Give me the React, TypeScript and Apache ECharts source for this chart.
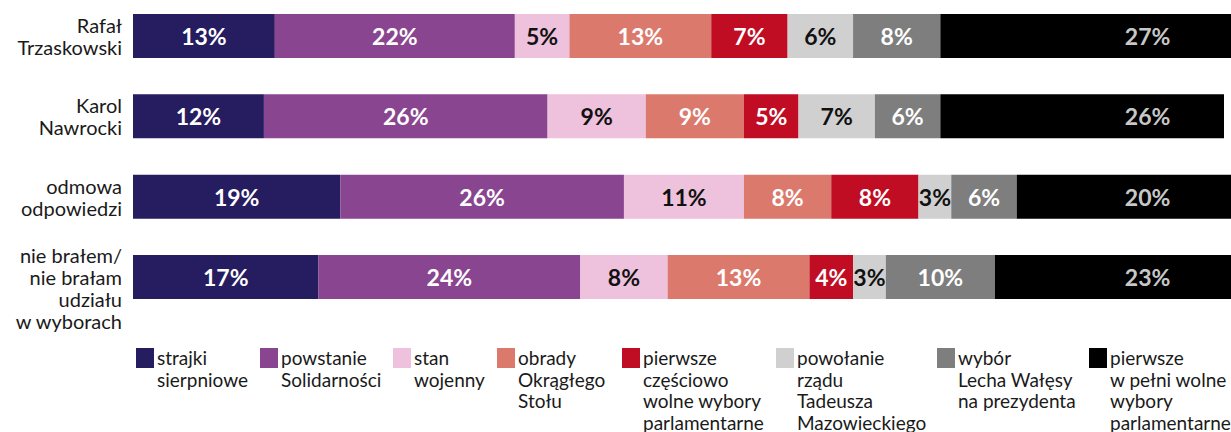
import React, { useEffect, useRef } from 'react';
import * as echarts from 'echarts';

const categories = [
  'Rafał\nTrzaskowski',
  'Karol\nNawrocki',
  'odmowa\nodpowiedzi',
  'nie brałem/\nnie brałam\nudziału\nw wyborach',
];

const seriesNames = [
  'strajki\nsierpniowe',
  'powstanie\nSolidarności',
  'stan\nwojenny',
  'obrady\nOkrągłego\nStołu',
  'pierwsze\nczęściowo\nwolne wybory\nparlamentarne',
  'powołanie\nrządu\nTadeusza\nMazowieckiego',
  'wybór\nLecha Wałęsy\nna prezydenta',
  'pierwsze\nw pełni wolne\nwybory\nparlamentarne',
];

const strajki = [13, 12, 19, 17];
const powstanie = [22, 26, 26, 24];
const stanWojenny = [5, 9, 11, 8];
const obrady = [13, 9, 8, 13];
const czesciowoWolne = [7, 5, 8, 4];
const powolanie = [6, 7, 3, 3];
const wyborWalesy = [8, 6, 6, 10];
const wPelniWolne = [27, 26, 20, 23];

const seriesValues = [strajki, powstanie, stanWojenny, obrady, czesciowoWolne, powolanie, wyborWalesy, wPelniWolne];

const colors = ['#261C60', '#8A4591', '#EEC1DC', '#DC796D', '#C00D24', '#D0D0D0', '#7E7E7E', '#000000'];
const labelColors = ['#ffffff', '#ffffff', '#111111', '#ffffff', '#ffffff', '#111111', '#ffffff', '#ffffff'];

const legendX = [136, 260, 393, 497, 622, 776, 937, 1089];
const LAST_LABEL_X = 93;
const FONT = 'Lato, "Open Sans", sans-serif';

export default function App() {
  const ref = useRef<HTMLDivElement>(null);

  useEffect(() => {
    if (!ref.current) return;
    const chart = echarts.init(ref.current, null, { renderer: 'svg' });
    const last = seriesValues.length - 1;

    const barSeries = seriesValues.map((vals, i) => ({
      name: seriesNames[i],
      type: 'bar',
      stack: 'total',
      barWidth: 44,
      clip: false,
      data: vals,
      itemStyle: { color: colors[i] },
      label: {
        show: i !== last,
        position: 'inside',
        formatter: (p: any) => `${p.value}%`,
        color: labelColors[i],
        fontFamily: FONT,
        fontSize: 23,
        fontWeight: 'bold',
      },
      silent: true,
    }));

    const lastLabelSeries = {
      name: 'lastLabels',
      type: 'scatter',
      symbolSize: 0,
      silent: true,
      clip: false,
      z: 10,
      data: categories.map((c) => [LAST_LABEL_X, c]),
      label: {
        show: true,
        position: 'inside',
        formatter: (p: any) => `${wPelniWolne[p.dataIndex]}%`,
        color: labelColors[last],
        fontFamily: FONT,
        fontSize: 23,
        fontWeight: 'bold',
      },
    };

    const legendGraphics: any[] = [];
    seriesNames.forEach((name, i) => {
      legendGraphics.push({
        type: 'rect',
        left: legendX[i],
        top: 348,
        shape: { width: 18, height: 20 },
        style: { fill: colors[i] },
        silent: true,
      });
      legendGraphics.push({
        type: 'text',
        left: legendX[i] + 21,
        top: 347,
        style: {
          text: name,
          fill: '#1a1a1a',
          font: `19px ${FONT}`,
          lineHeight: 21.5,
        },
        silent: true,
      });
    });

    chart.setOption({
      animation: false,
      grid: { left: 133, width: 1091, top: 36, height: 241, containLabel: false },
      xAxis: {
        type: 'value',
        min: 0,
        max: 100,
        show: false,
      },
      yAxis: {
        type: 'category',
        data: categories,
        inverse: true,
        boundaryGap: false,
        axisLine: { show: false },
        axisTick: { show: false },
        splitLine: { show: false },
        axisLabel: {
          margin: 11,
          color: '#1a1a1a',
          fontFamily: FONT,
          fontSize: 20,
          lineHeight: 22,
          align: 'right',
          formatter: (v: string) => (v.split('\n').length > 3 ? '\n' + v : v),
        },
      },
      series: [...barSeries, lastLabelSeries],
      graphic: legendGraphics,
    });

    return () => chart.dispose();
  }, []);

  return (
    <div
      ref={ref}
      style={{ position: 'absolute', left: 0, top: 0, width: 1231, height: 432, background: '#fff' }}
    />
  );
}
